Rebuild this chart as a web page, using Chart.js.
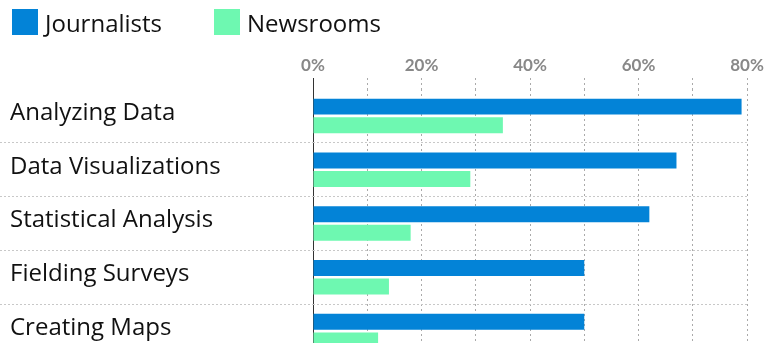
<!DOCTYPE html>
<html>
<head>
<meta charset="utf-8">
<script src="https://cdn.jsdelivr.net/npm/chart.js@4"></script>
<style>
  html, body { margin: 0; padding: 0; background: #fff; overflow: hidden; }
  #wrap { position: relative; width: 767px; height: 343px; overflow: hidden; }
  #chart { position: absolute; left: 0; top: 0; }
  .legend .item { position: absolute; top: 9px; display: flex; align-items: center; gap: 7px; height: 26px; font-family: 'Open Sans', sans-serif; font-size: 24px; color: #111; }
  .legend .sw { width: 26px; height: 26px; display: inline-block; }
</style>
</head>
<body>
<div id="wrap">
  <canvas id="chart" width="767" height="362"></canvas>
  <div class="legend" id="legend"></div>
</div>
<script>
// skills (percent)
const categories = ['Analyzing Data', 'Data Visualizations', 'Statistical Analysis', 'Fielding Surveys', 'Creating Maps'];
const journalists = [79, 67, 62, 50, 50];
const newsrooms = [35, 29, 18, 14, 12];
const seriesNames = ['Journalists', 'Newsrooms'];
const seriesColors = ['#0383d7', '#6ef8b1'];

(function(){
  const el = document.getElementById('chart');
  const legendEl = document.getElementById('legend');
  const legendLeft = [12, 214];

  seriesNames.forEach((name, i) => {
    const item = document.createElement('div');
    item.className = 'item';
    item.style.left = legendLeft[i] + 'px';
    item.innerHTML = `<span class="sw" style="background:${seriesColors[i]}"></span><span>${name}</span>`;
    legendEl.appendChild(item);
  });

  const barOpts = { barPercentage: 0.86, categoryPercentage: 0.69 };

  new Chart(el, {
    type: 'bar',
    data: {
      labels: categories,
      datasets: [
        Object.assign({ label: seriesNames[0], data: journalists, backgroundColor: seriesColors[0] }, barOpts),
        Object.assign({ label: seriesNames[1], data: newsrooms, backgroundColor: seriesColors[1] }, barOpts)
      ]
    },
    options: {
      indexAxis: 'y',
      responsive: false,
      animation: false,
      layout: { padding: { left: 10, right: 20, top: 50, bottom: 4 } },
      plugins: { legend: { display: false }, tooltip: { enabled: false } },
      scales: {
        x: {
          position: 'top',
          min: 0, max: 80,
          afterFit: s => { s.height = 39; },
          grid: {
            color: c => c.index === 0 ? '#333' : '#aaa',
            tickColor: c => c.index === 0 ? '#333' : '#aaa',
            tickBorderDash: c => c.index === 0 ? [] : [2, 3],
            tickLength: 11,
            lineWidth: 1
          },
          border: { display: false, dash: c => c.index === 0 ? [] : [2, 3] },
          ticks: {
            stepSize: 10,
            autoSkip: false,
            maxRotation: 0,
            padding: 2,
            color: '#888',
            font: { family: 'Lato', size: 17, weight: 'bold' },
            callback: v => v % 20 === 0 ? v + '%' : ''
          }
        },
        y: {
          // fixed label column; drop the label overhang padding so rows keep full height
          afterFit: s => { s.width = 303; s.paddingTop = 0; s.paddingBottom = 0; },
          grid: {
            offset: true,
            color: c => c.index === 0 ? 'transparent' : '#c8c8c8',
            tickColor: c => c.index === 0 ? 'transparent' : '#c8c8c8',
            tickBorderDash: [2, 2],
            tickLength: 313
          },
          border: { display: false, dash: [2, 2] },
          ticks: {
            crossAlign: 'far',
            labelOffset: -3,
            color: '#111',
            font: { family: 'Open Sans', size: 24 }
          }
        }
      }
    }
  });
})();
</script>
</body>
</html>
